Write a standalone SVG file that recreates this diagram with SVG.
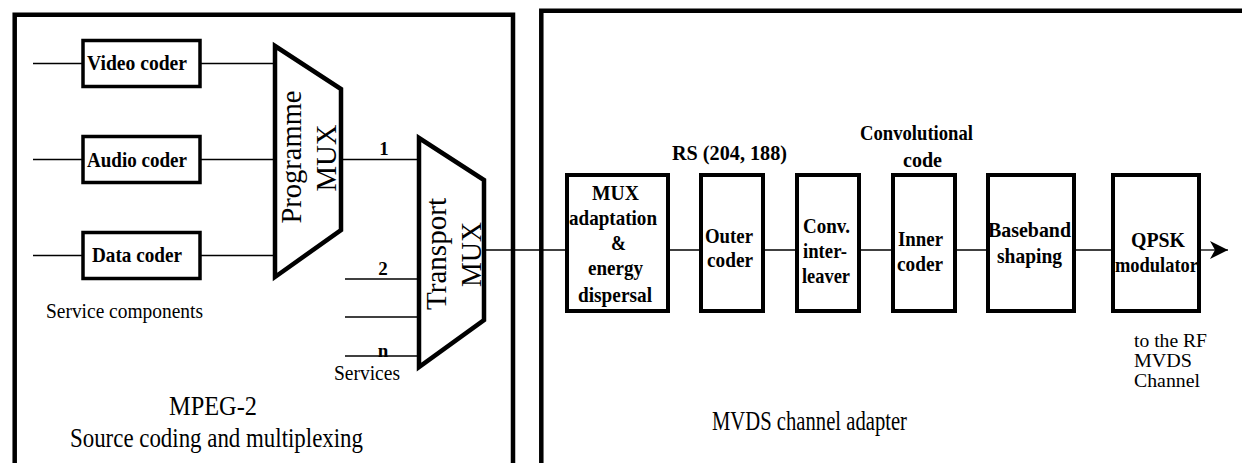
<svg xmlns="http://www.w3.org/2000/svg" width="1242" height="463" viewBox="0 0 1242 463">
<style>
text{font-family:"Liberation Serif","Times New Roman",serif;fill:#000}
.b{font-weight:bold;font-size:22px;text-anchor:middle}
.n{font-size:21px}
.s{font-size:18px}
.big{font-size:28px;text-anchor:middle}
.rot{font-size:29px;text-anchor:middle}
.lbl{font-weight:bold;font-size:19px;text-anchor:middle}
.panel{fill:none;stroke:#000;stroke-width:4.5}
.box{fill:#fff;stroke:#000;stroke-width:3.5}
.rbox{fill:#fff;stroke:#000;stroke-width:4}
.mux{fill:#fff;stroke:#000;stroke-width:4.5;stroke-linejoin:miter}
.ln{fill:none;stroke:#000;stroke-width:1.3}
</style>
<defs>
<marker id="arr" markerUnits="userSpaceOnUse" markerWidth="22" markerHeight="22" refX="18" refY="10" orient="auto">
<path d="M18,10 L0,1 L5,10 L0,19 Z" fill="#000"/>
</marker>
</defs>
<rect width="1242" height="463" fill="#fff"/>
<g id="panels">
<path class="panel" d="M14.7,470 V14.7 H513 V470"/>
<path class="panel" d="M541.3,470 V10.8 H1250"/>
</g>
<g id="connectors">
<line class="ln" x1="33" y1="63.5" x2="83" y2="63.5"/>
<line class="ln" x1="200" y1="63.5" x2="275" y2="63.5"/>
<line class="ln" x1="33" y1="159.5" x2="83" y2="159.5"/>
<line class="ln" x1="200" y1="159.5" x2="275" y2="159.5"/>
<line class="ln" x1="33" y1="255.5" x2="83" y2="255.5"/>
<line class="ln" x1="200" y1="255.5" x2="275" y2="255.5"/>
<line class="ln" x1="341" y1="159.5" x2="419" y2="159.5"/>
<line class="ln" x1="345" y1="279" x2="419" y2="279"/>
<line class="ln" x1="345" y1="317" x2="419" y2="317"/>
<line class="ln" x1="345" y1="356" x2="419" y2="356"/>
<line class="ln" x1="484" y1="250" x2="567" y2="250"/>
<line class="ln" x1="668" y1="250" x2="701" y2="250"/>
<line class="ln" x1="763" y1="250" x2="797" y2="250"/>
<line class="ln" x1="859" y1="250" x2="893" y2="250"/>
<line class="ln" x1="955" y1="250" x2="988" y2="250"/>
<line class="ln" x1="1074" y1="250" x2="1113" y2="250"/>
<line class="ln" x1="1199" y1="250" x2="1228" y2="250" marker-end="url(#arr)"/>
<text class="lbl" x="384" y="155">1</text>
<text class="lbl" x="383" y="275">2</text>
<text class="lbl" x="383" y="357">n</text>
</g>
<g id="video-coder">
<rect class="box" x="83" y="40.5" width="117" height="46"/>
<text class="b" x="137" y="70" textLength="100" lengthAdjust="spacingAndGlyphs">Video coder</text>
</g>
<g id="audio-coder">
<rect class="box" x="83" y="136.5" width="117" height="46"/>
<text class="b" x="137" y="167" textLength="100" lengthAdjust="spacingAndGlyphs">Audio coder</text>
</g>
<g id="data-coder">
<rect class="box" x="83" y="232.5" width="117" height="46"/>
<text class="b" x="137" y="262" textLength="90" lengthAdjust="spacingAndGlyphs">Data coder</text>
</g>
<g id="programme-mux">
<polygon class="mux" points="275,46 341,89 341,230 275,277"/>
<text class="rot" transform="translate(301,157) rotate(-90)" textLength="133" lengthAdjust="spacingAndGlyphs">Programme</text>
<text class="rot" transform="translate(336,158) rotate(-90)" textLength="67" lengthAdjust="spacingAndGlyphs">MUX</text>
</g>
<g id="transport-mux">
<polygon class="mux" points="419,138 484,180 484,320 419,367"/>
<text class="rot" transform="translate(446,254) rotate(-90)" textLength="112" lengthAdjust="spacingAndGlyphs">Transport</text>
<text class="rot" transform="translate(481,254.5) rotate(-90)" textLength="65" lengthAdjust="spacingAndGlyphs">MUX</text>
</g>
<g id="labels-left">
<text class="n" x="46" y="318" textLength="157" lengthAdjust="spacingAndGlyphs">Service components</text>
<text class="n" x="334" y="380" textLength="66" lengthAdjust="spacingAndGlyphs">Services</text>
<text class="big" x="213" y="415" textLength="88" lengthAdjust="spacingAndGlyphs">MPEG-2</text>
<text class="big" x="216.5" y="447" textLength="293" lengthAdjust="spacingAndGlyphs">Source coding and multiplexing</text>
</g>
<g id="mux-adaptation">
<rect class="rbox" x="567" y="175" width="101" height="136"/>
<text class="b" x="615.5" y="200" textLength="47" lengthAdjust="spacingAndGlyphs">MUX</text>
<text class="b" x="613" y="225" textLength="88" lengthAdjust="spacingAndGlyphs">adaptation</text>
<text class="b" x="618.5" y="250" textLength="15" lengthAdjust="spacingAndGlyphs">&amp;</text>
<text class="b" x="615.5" y="275" textLength="55" lengthAdjust="spacingAndGlyphs">energy</text>
<text class="b" x="615" y="302" textLength="74" lengthAdjust="spacingAndGlyphs">dispersal</text>
</g>
<g id="outer-coder">
<rect class="rbox" x="701" y="175" width="62" height="136"/>
<text class="b" x="729" y="243" textLength="48" lengthAdjust="spacingAndGlyphs">Outer</text>
<text class="b" x="730" y="267" textLength="46" lengthAdjust="spacingAndGlyphs">coder</text>
<text class="b" x="729.5" y="160" textLength="115" lengthAdjust="spacingAndGlyphs">RS (204, 188)</text>
</g>
<g id="conv-interleaver">
<rect class="rbox" x="797" y="175" width="62" height="136"/>
<text class="b" x="826.5" y="233" textLength="47" lengthAdjust="spacingAndGlyphs">Conv.</text>
<text class="b" x="825" y="258" textLength="44" lengthAdjust="spacingAndGlyphs">inter-</text>
<text class="b" x="826" y="283" textLength="48" lengthAdjust="spacingAndGlyphs">leaver</text>
</g>
<g id="inner-coder">
<rect class="rbox" x="893" y="175" width="62" height="136"/>
<text class="b" x="920.5" y="246" textLength="45" lengthAdjust="spacingAndGlyphs">Inner</text>
<text class="b" x="920" y="271" textLength="46" lengthAdjust="spacingAndGlyphs">coder</text>
<text class="b" x="916.5" y="140" textLength="113" lengthAdjust="spacingAndGlyphs">Convolutional</text>
<text class="b" x="922.5" y="167" textLength="39" lengthAdjust="spacingAndGlyphs">code</text>
</g>
<g id="baseband-shaping">
<rect class="rbox" x="988" y="175" width="86" height="136"/>
<text class="b" x="1029.5" y="237" textLength="83" lengthAdjust="spacingAndGlyphs">Baseband</text>
<text class="b" x="1029.5" y="263" textLength="65" lengthAdjust="spacingAndGlyphs">shaping</text>
</g>
<g id="qpsk-modulator">
<rect class="rbox" x="1113" y="175" width="86" height="136"/>
<text class="b" x="1158" y="247" textLength="54" lengthAdjust="spacingAndGlyphs">QPSK</text>
<text class="b" x="1156.5" y="272" textLength="83" lengthAdjust="spacingAndGlyphs">modulator</text>
</g>
<g id="labels-right">
<text class="s" x="1134" y="347" textLength="73" lengthAdjust="spacingAndGlyphs">to the RF</text>
<text class="s" x="1134" y="367" textLength="58" lengthAdjust="spacingAndGlyphs">MVDS</text>
<text class="s" x="1134" y="387" textLength="66" lengthAdjust="spacingAndGlyphs">Channel</text>
<text class="big" x="809.5" y="430" textLength="195" lengthAdjust="spacingAndGlyphs">MVDS channel adapter</text>
</g>
</svg>
